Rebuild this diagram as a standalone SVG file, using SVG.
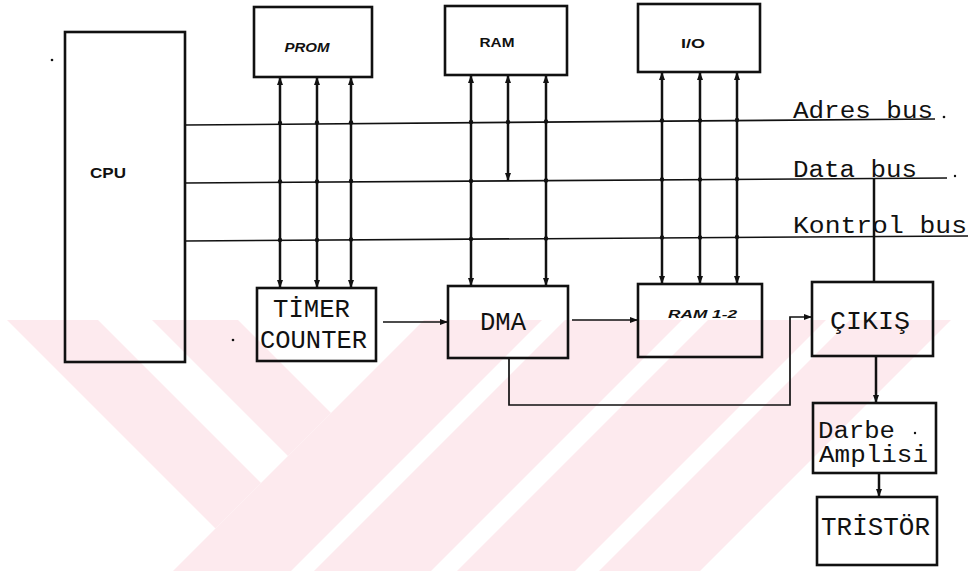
<svg xmlns="http://www.w3.org/2000/svg" width="971" height="571" viewBox="0 0 971 571">
<style>
.box{fill:none;stroke:#111;stroke-width:2.6}
.v{fill:none;stroke:#111;stroke-width:2.5}
.bus{fill:none;stroke:#111;stroke-width:1.6}
.h{fill:none;stroke:#111;stroke-width:1.7}
.lbl{font-family:"Liberation Sans",Arial,sans-serif;font-weight:bold;fill:#111}
.mono{font-family:"Liberation Mono","DejaVu Sans Mono",monospace;fill:#111}
.dot{fill:#111}
.wm{fill:#fdeaee}
</style>
<defs>
<marker id="ah" viewBox="0 0 8 6" refX="8" refY="3" markerWidth="8" markerHeight="6" markerUnits="userSpaceOnUse" orient="auto-start-reverse"><path d="M0,0 L8,3 L0,6 z" fill="#111"/></marker>
<clipPath id="wmclip"><rect x="0" y="320" width="971" height="251"/></clipPath>
</defs>
<rect width="971" height="571" fill="#fff"/>
<g id="watermark" clip-path="url(#wmclip)">
<polygon class="wm" points="7,320 98,320 261,483 215.5,528.5"/>
<polygon class="wm" points="152,320 238,320 331,413 288,456"/>
<polygon class="wm" points="424,320 542,320 291,571 173,571"/>
<polygon class="wm" points="565,320 682,320 431,571 314,571"/>
<polygon class="wm" points="708,320 826,320 575,571 457,571"/>
<polygon class="wm" points="850,320 951,320 700,571 599,571"/>
</g>
<g id="connectors">
<line class="bus" x1="185" y1="125" x2="935" y2="119"/>
<line class="bus" x1="185" y1="183" x2="947" y2="178"/>
<line class="bus" x1="185" y1="241" x2="968" y2="236"/>
<line class="v" x1="280" y1="77" x2="280" y2="288" marker-start="url(#ah)" marker-end="url(#ah)"/>
<line class="v" x1="317" y1="77" x2="317" y2="288" marker-start="url(#ah)" marker-end="url(#ah)"/>
<line class="v" x1="351" y1="77" x2="351" y2="288" marker-start="url(#ah)" marker-end="url(#ah)"/>
<line class="v" x1="471" y1="75" x2="471" y2="286" marker-start="url(#ah)" marker-end="url(#ah)"/>
<line class="v" x1="508" y1="75" x2="508" y2="181" marker-start="url(#ah)" marker-end="url(#ah)"/>
<line class="v" x1="546" y1="75" x2="546" y2="286" marker-start="url(#ah)" marker-end="url(#ah)"/>
<line class="v" x1="662" y1="72" x2="662" y2="284" marker-start="url(#ah)" marker-end="url(#ah)"/>
<line class="v" x1="700" y1="72" x2="700" y2="284" marker-start="url(#ah)" marker-end="url(#ah)"/>
<line class="v" x1="737" y1="72" x2="737" y2="284" marker-start="url(#ah)" marker-end="url(#ah)"/>
<line class="v" x1="874" y1="179" x2="874" y2="282"/>
<line class="h" x1="383" y1="322" x2="448" y2="322" marker-end="url(#ah)"/>
<line class="h" x1="572" y1="320" x2="638" y2="320" marker-end="url(#ah)"/>
<path class="h" d="M509,358 V405 H790 V317 H812" marker-end="url(#ah)"/>
<line class="v" x1="876" y1="356" x2="876" y2="403" marker-end="url(#ah)"/>
<line class="v" x1="879" y1="473" x2="879" y2="497" marker-end="url(#ah)"/>
<g id="junctions">
<circle class="dot" cx="280" cy="123" r="2.2"/><circle class="dot" cx="317" cy="122.5" r="2.2"/><circle class="dot" cx="351" cy="122.5" r="2.2"/>
<circle class="dot" cx="280" cy="181.5" r="2.2"/><circle class="dot" cx="317" cy="181.5" r="2.2"/><circle class="dot" cx="351" cy="181" r="2.2"/>
<circle class="dot" cx="280" cy="240" r="2.2"/><circle class="dot" cx="317" cy="240" r="2.2"/><circle class="dot" cx="351" cy="239.5" r="2.2"/>
<circle class="dot" cx="471" cy="122" r="2.2"/><circle class="dot" cx="508" cy="122" r="2.2"/><circle class="dot" cx="546" cy="121.5" r="2.2"/>
<circle class="dot" cx="471" cy="181" r="2.2"/><circle class="dot" cx="546" cy="180.5" r="2.2"/>
<circle class="dot" cx="471" cy="239" r="2.2"/><circle class="dot" cx="546" cy="238.5" r="2.2"/>
<circle class="dot" cx="662" cy="120.5" r="2.2"/><circle class="dot" cx="700" cy="120.5" r="2.2"/><circle class="dot" cx="737" cy="120" r="2.2"/>
<circle class="dot" cx="662" cy="179.5" r="2.2"/><circle class="dot" cx="700" cy="179.5" r="2.2"/><circle class="dot" cx="737" cy="179" r="2.2"/>
<circle class="dot" cx="662" cy="237.5" r="2.2"/><circle class="dot" cx="700" cy="237.5" r="2.2"/><circle class="dot" cx="737" cy="237" r="2.2"/>
</g>
</g>
<g id="cpu"><rect class="box" x="65" y="32" width="120" height="330"/><text class="lbl" x="108" y="178" font-size="14" text-anchor="middle" textLength="36" lengthAdjust="spacingAndGlyphs">CPU</text></g>
<g id="prom"><rect class="box" x="254" y="7" width="118" height="70"/><text class="lbl" x="307" y="52" font-size="12" font-style="italic" text-anchor="middle" textLength="45" lengthAdjust="spacingAndGlyphs">PROM</text></g>
<g id="ram"><rect class="box" x="445" y="6" width="122" height="69"/><text class="lbl" x="497" y="47" font-size="12" text-anchor="middle" textLength="35" lengthAdjust="spacingAndGlyphs">RAM</text></g>
<g id="io"><rect class="box" x="638" y="4" width="122" height="68"/><text class="lbl" x="693" y="48" font-size="13" text-anchor="middle" textLength="24" lengthAdjust="spacingAndGlyphs">I/O</text></g>
<g id="timer"><rect class="box" x="257" y="288" width="119" height="73"/><text class="mono" x="273" y="317" font-size="25" textLength="77" lengthAdjust="spacingAndGlyphs">TİMER</text><text class="mono" x="260" y="348" font-size="25" textLength="107" lengthAdjust="spacingAndGlyphs">COUNTER</text></g>
<g id="dma"><rect class="box" x="448" y="286" width="120" height="72"/><text class="mono" x="480" y="330" font-size="25" textLength="46" lengthAdjust="spacingAndGlyphs">DMA</text></g>
<g id="ram12"><rect class="box" x="638" y="284" width="124" height="73"/><text class="lbl" x="668" y="318" font-size="11" font-style="italic" textLength="69" lengthAdjust="spacingAndGlyphs">RAM 1-2</text></g>
<g id="cikis"><rect class="box" x="812" y="282" width="121" height="74"/><text class="mono" x="830" y="329" font-size="26" textLength="80" lengthAdjust="spacingAndGlyphs">ÇIKIŞ</text></g>
<g id="darbe"><rect class="box" x="813" y="403" width="123" height="70"/><text class="mono" x="818" y="438" font-size="23" textLength="77" lengthAdjust="spacingAndGlyphs">Darbe</text><text class="mono" x="819" y="462" font-size="23" textLength="109" lengthAdjust="spacingAndGlyphs">Amplisi</text></g>
<g id="tristor"><rect class="box" x="817" y="497" width="120" height="68"/><text class="mono" x="821" y="535" font-size="25" textLength="109" lengthAdjust="spacingAndGlyphs">TRİSTÖR</text></g>
<g id="bus-labels">
<text class="mono" x="793" y="118" font-size="23" textLength="140" lengthAdjust="spacingAndGlyphs">Adres bus</text>
<text class="mono" x="793" y="177" font-size="23" textLength="124" lengthAdjust="spacingAndGlyphs">Data bus</text>
<text class="mono" x="793" y="233" font-size="23" textLength="174" lengthAdjust="spacingAndGlyphs">Kontrol bus</text>
</g>
<g id="specks"><circle class="dot" cx="52" cy="60" r="1.3"/><circle class="dot" cx="233" cy="340" r="1.3"/><circle class="dot" cx="915" cy="433" r="1.2"/><circle class="dot" cx="944" cy="117" r="1.3"/><circle class="dot" cx="955" cy="176" r="1.2"/></g>
</svg>
